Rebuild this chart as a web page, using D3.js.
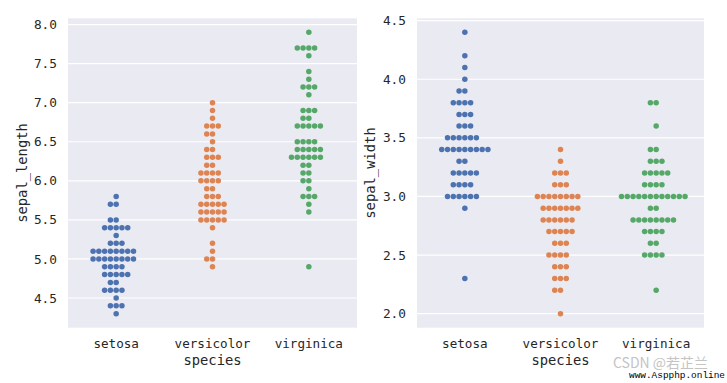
<!DOCTYPE html>
<html><head><meta charset="utf-8">
<script src="https://cdn.jsdelivr.net/npm/d3@7"></script>
<style>body{margin:0;background:#fff}svg{display:block}</style>
</head><body>
<svg id="chart" width="727" height="383"></svg>
<script>
const species = ["setosa", "versicolor", "virginica"];
const colors = ["#4C72B0", "#DD8452", "#55A868"];
const sepalLength = {
  setosa: [5.1,4.9,4.7,4.6,5.0,5.4,4.6,5.0,4.4,4.9,5.4,4.8,4.8,4.3,5.8,5.7,5.4,5.1,5.7,5.1,5.4,5.1,4.6,5.1,4.8,5.0,5.0,5.2,5.2,4.7,4.8,5.4,5.2,5.5,4.9,5.0,5.5,4.9,4.4,5.1,5.0,4.5,4.4,5.0,5.1,4.8,5.1,4.6,5.3,5.0],
  versicolor: [7.0,6.4,6.9,5.5,6.5,5.7,6.3,4.9,6.6,5.2,5.0,5.9,6.0,6.1,5.6,6.7,5.6,5.8,6.2,5.6,5.9,6.1,6.3,6.1,6.4,6.6,6.8,6.7,6.0,5.7,5.5,5.5,5.8,6.0,5.4,6.0,6.7,6.3,5.6,5.5,5.5,6.1,5.8,5.0,5.6,5.7,5.7,6.2,5.1,5.7],
  virginica: [6.3,5.8,7.1,6.3,6.5,7.6,4.9,7.3,6.7,7.2,6.5,6.4,6.8,5.7,5.8,6.4,6.5,7.7,7.7,6.0,6.9,5.6,7.7,6.3,6.7,7.2,6.2,6.1,6.4,7.2,7.4,7.9,6.4,6.3,6.1,7.7,6.3,6.4,6.0,6.9,6.7,6.9,5.8,6.8,6.7,6.7,6.3,6.5,6.2,5.9]
};
const sepalWidth = {
  setosa: [3.5,3.0,3.2,3.1,3.6,3.9,3.4,3.4,2.9,3.1,3.7,3.4,3.0,3.0,4.0,4.4,3.9,3.5,3.8,3.8,3.4,3.7,3.6,3.3,3.4,3.0,3.4,3.5,3.4,3.2,3.1,3.4,4.1,4.2,3.1,3.2,3.5,3.6,3.0,3.4,3.5,2.3,3.2,3.5,3.8,3.0,3.8,3.2,3.7,3.3],
  versicolor: [3.2,3.2,3.1,2.3,2.8,2.8,3.3,2.4,2.9,2.7,2.0,3.0,2.2,2.9,2.9,3.1,3.0,2.7,2.2,2.5,3.2,2.8,2.5,2.8,2.9,3.0,2.8,3.0,2.9,2.6,2.4,2.4,2.7,2.7,3.0,3.4,3.1,2.3,3.0,2.5,2.6,3.0,2.6,2.3,2.7,3.0,2.9,2.9,2.5,2.8],
  virginica: [3.3,2.7,3.0,2.9,3.0,3.0,2.5,2.9,2.5,3.6,3.2,2.7,3.0,2.5,2.8,3.2,3.0,3.8,2.6,2.2,3.2,2.8,2.8,2.7,3.3,3.2,2.8,3.0,2.8,3.0,2.8,3.8,2.8,2.8,2.6,3.0,3.4,3.1,3.0,3.1,3.1,3.1,2.7,3.2,3.3,3.0,2.5,3.0,3.4,3.0]
};
const lengthTicks = [4.5,5.0,5.5,6.0,6.5,7.0,7.5,8.0];
const widthTicks = [2.0,2.5,3.0,3.5,4.0,4.5];

const svg = d3.select("#chart");
const R = 2.75;
const monoFont = "'DejaVu Sans Mono', 'Liberation Mono', monospace";
const textColor = "#262626";

function beeswarm(ys, cx, r) {
  const pts = ys.slice().sort((a, b) => b - a); // pixel desc = data asc
  const swarm = [{x: cx, y: pts[0]}];
  const sep2 = (2 * r) * (2 * r);
  for (let i = 1; i < pts.length; i++) {
    const yi = pts[i];
    const neighbors = [];
    for (let j = swarm.length - 1; j >= 0; j--) {
      if (Math.abs(yi - swarm[j].y) < 2 * r) neighbors.unshift(swarm[j]);
      else break;
    }
    let cands = [cx];
    let leftFirst = true;
    for (const n of neighbors) {
      const dy = yi - n.y;
      const dx = Math.sqrt(Math.max(sep2 - dy * dy, 0)) * 1.05;
      if (leftFirst) cands.push(n.x - dx, n.x + dx);
      else cands.push(n.x + dx, n.x - dx);
      leftFirst = !leftFirst;
    }
    cands = cands.map((c, k) => ({c, k})).sort((a, b) => {
      const d = Math.abs(a.c - cx) - Math.abs(b.c - cx);
      return Math.abs(d) < 1e-9 ? a.k - b.k : d;
    }).map(o => o.c);
    let chosen = cands[0];
    for (const c of cands) {
      let ok = true;
      for (const n of neighbors) {
        const ddx = n.x - c, ddy = n.y - yi;
        if (ddx * ddx + ddy * ddy < sep2 - 1e-6) { ok = false; break; }
      }
      if (ok) { chosen = c; break; }
    }
    swarm.push({x: chosen, y: yi});
  }
  return swarm;
}

function panel(opts) {
  const {x0, x1, y0, y1, domain, ticks, data, ylabel, ylabelX} = opts;
  const g = svg.append("g");
  const x = d3.scaleBand().domain(species).range([x0, x1]).padding(0);
  const y = d3.scaleLinear().domain(domain).range([y1, y0]);
  g.append("rect").attr("x", x0).attr("y", y0).attr("width", x1 - x0).attr("height", y1 - y0).attr("fill", "#EAEAF2");
  g.append("g").selectAll("line").data(ticks).join("line")
    .attr("x1", x0).attr("x2", x1)
    .attr("y1", d => y(d)).attr("y2", d => y(d))
    .attr("stroke", "#fff").attr("stroke-width", 1.2);
  const ya = g.append("g").attr("transform", `translate(${x0},0)`)
    .call(d3.axisLeft(y).tickValues(ticks).tickFormat(d3.format(".1f")).tickSize(0).tickPadding(11));
  ya.select(".domain").remove();
  ya.selectAll("text").attr("font-family", monoFont).attr("font-size", 12.8).attr("fill", textColor);
  const xa = g.append("g").attr("transform", `translate(0,${y1})`)
    .call(d3.axisBottom(x).tickSize(0).tickPadding(11));
  xa.select(".domain").remove();
  xa.selectAll("text").attr("font-family", monoFont).attr("font-size", 12.6).attr("fill", textColor);
  g.append("text").attr("x", (x0 + x1) / 2).attr("y", 365)
    .attr("text-anchor", "middle").attr("font-family", monoFont).attr("font-size", 13.8)
    .attr("fill", textColor).text("species");
  g.append("text").attr("transform", `translate(${ylabelX},${(y0 + y1) / 2}) rotate(-90)`)
    .attr("text-anchor", "middle").attr("font-family", monoFont).attr("font-size", 13.8)
    .attr("dy", "0.35em").attr("fill", textColor).text(ylabel);
  species.forEach((s, i) => {
    const cx = x(s) + x.bandwidth() / 2;
    const pts = beeswarm(data[s].map(v => y(v)), cx, R);
    g.append("g").selectAll("circle").data(pts).join("circle")
      .attr("cx", d => d.x).attr("cy", d => d.y).attr("r", R).attr("fill", colors[i]);
  });
}

panel({x0: 68, x1: 357, y0: 18.3, y1: 327.7, domain: [4.12, 8.08], ticks: lengthTicks,
       data: sepalLength, ylabel: "sepal_length", ylabelX: 22});
panel({x0: 417, x1: 704, y0: 18.3, y1: 327.7, domain: [1.88, 4.52], ticks: widthTicks,
       data: sepalWidth, ylabel: "sepal_width", ylabelX: 370});

// watermark
svg.append("text").attr("x", 613).attr("y", 368).attr("font-family", "'Noto Sans CJK SC', sans-serif")
  .attr("font-size", 14).attr("fill", "#c4c4c4").text("CSDN @若芷兰");
svg.append("text").attr("x", 629).attr("y", 378).attr("font-family", "'Liberation Mono', monospace")
  .attr("font-size", 9.5).attr("fill", "#000").attr("textLength", 96).attr("lengthAdjust", "spacingAndGlyphs")
  .text("www.Aspphp.online");
</script>
</body></html>
